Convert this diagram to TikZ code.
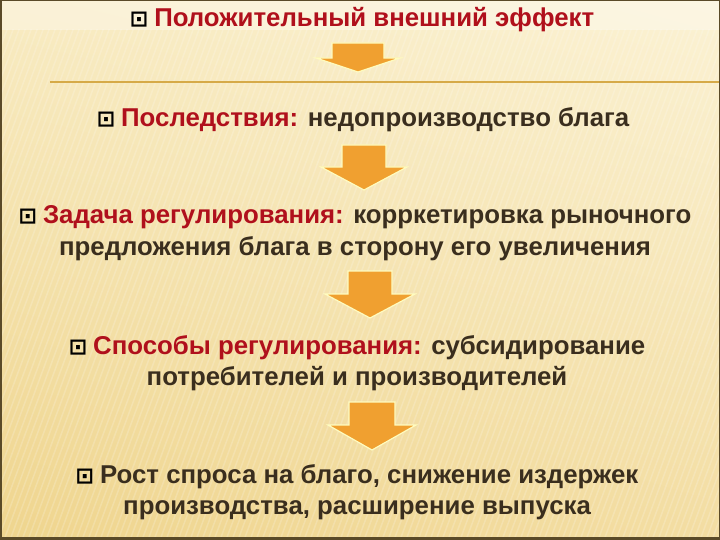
\documentclass[tikz,border=0pt]{standalone}
\usepackage{fontspec}
\setmainfont{Liberation Sans}
\newfontfamily\bulletfont{DejaVu Sans}
\usetikzlibrary{positioning,shadings}

\definecolor{labelred}{HTML}{B0101C}
\definecolor{textbrown}{HTML}{3A2E1E}
\definecolor{arroworange}{HTML}{F0A030}
\definecolor{goldline}{HTML}{D6AA48}
\definecolor{frameline}{HTML}{5A4A28}
\definecolor{paperUL}{HTML}{F8EBC2}
\definecolor{paperUR}{HTML}{FBF2D4}
\definecolor{paperLL}{HTML}{EFD58E}
\definecolor{paperLR}{HTML}{F3DDA2}

\newcommand{\bul}{{\bulletfont\bfseries\fontsize{22}{22}\selectfont\color{black}⊡}\hspace{6pt}}
\newcommand{\lbl}[1]{\textcolor{labelred}{#1}}
% block arrow: x, top, head top, tip, shaft half width, head half width
\newcommand{\blockarrow}[6]{%
  \draw[downblock] ({#1-#5},#2) -- ({#1+#5},#2) -- ({#1+#5},#3) -- ({#1+#6},#3)
    -- (#1,#4) -- ({#1-#6},#3) -- ({#1-#5},#3) -- cycle;}

\begin{document}
\begin{tikzpicture}
  [x=1pt,y=-1pt,
   every node/.style={text=textbrown,align=center,inner sep=0pt,
                      font=\fontsize{25.8}{31.5}\selectfont\bfseries},
   downblock/.style={fill=arroworange,draw=white!75!yellow,line width=1.2pt,
                     line join=miter}]

  \useasboundingbox (0,0) rectangle (720,540);

  % paper
  \shade[upper left=paperUL, upper right=paperUR,
         lower left=paperLL, lower right=paperLR]
        (0,0) rectangle (720,540);
  \fill[white,opacity=0.35] (0,0) rectangle (720,30);
  \begin{scope}
    \clip (0,30) rectangle (720,540);
    \foreach \s in {-200,-194,...,720}
      \draw[white,opacity=0.18,line width=1.5pt] (\s,540) -- ({\s+200},0);
  \end{scope}
  \draw[goldline,line width=1.5pt] (50,82) -- (720,82);
  \draw[frameline,line width=1.5pt] (0.75,0.75) rectangle (719.25,539.25);
  \draw[frameline,line width=3pt] (0,538.5) -- (720,538.5);

  % steps
  \node (effect) at (362,20)  {\bul\lbl{Положительный внешний эффект}};
  \node (result) at (363,120) {\bul\lbl{Последствия:} недопроизводство блага};
  \node (task)   at (355,233) {\bul\lbl{Задача регулирования:} корркетировка рыночного\\
                               предложения блага в сторону его увеличения};
  \node (ways)   at (357,363) {\bul\lbl{Способы регулирования:} субсидирование\\
                               потребителей и производителей};
  \node (growth) at (357,492) {\bul Рост спроса на благо, снижение издержек\\
                               производства, расширение выпуска};

  % arrows
  \blockarrow{358}{43}{58}{72}{26}{42}
  \blockarrow{364}{145}{167}{190}{22}{43}
  \blockarrow{370}{271}{294}{318}{22}{45}
  \blockarrow{372}{402}{425}{450}{23}{44}
\end{tikzpicture}
\end{document}
